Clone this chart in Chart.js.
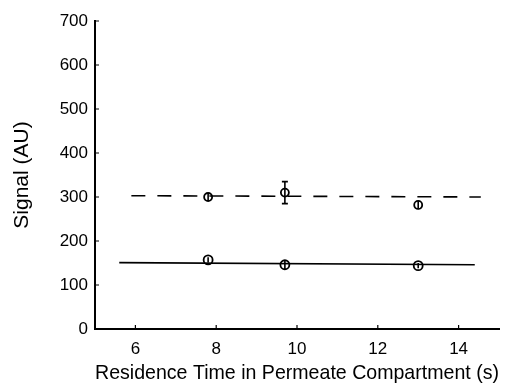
<!DOCTYPE html>
<html>
<head>
<meta charset="utf-8">
<script src="https://cdn.jsdelivr.net/npm/chart.js@4"></script>
<style>
  html, body { margin: 0; padding: 0; background: #fff; }
  #wrap { width: 529px; height: 387px; }
</style>
</head>
<body>
<div id="wrap"><canvas id="chart" width="529" height="387"></canvas></div>
<script>
// values
const xTicks = [6, 8, 10, 12, 14];
const yTicks = [0, 100, 200, 300, 400, 500, 600, 700];
const residenceTimes = [7.8, 9.7, 13.0];
const dashedSignal = [300, 310, 282];
const dashedError = [8, 25, 10];
const solidSignal = [157, 146, 144];
const solidError = [6, 10, 6];
const dashedFitX = [5.9, 14.55];
const dashedFitY = [303, 300];
const solidFitX = [5.6, 14.4];
const solidFitY = [151, 146];

const font = "'Liberation Sans', Arial, sans-serif";

function toPoints(xs, ys) {
  return xs.map((x, i) => ({ x: x, y: ys[i] }));
}

// error bars drawn through the markers
const errorBars = {
  id: "errorBars",
  afterDatasetsDraw(chart) {
    const ctx = chart.ctx;
    const xs = chart.scales.x, ys = chart.scales.y;
    ctx.save();
    ctx.strokeStyle = "#000";
    ctx.lineWidth = 1.6;
    chart.data.datasets.forEach((ds) => {
      if (!ds.errors) return;
      ds.data.forEach((p, i) => {
        const px = xs.getPixelForValue(p.x);
        const top = ys.getPixelForValue(p.y + ds.errors[i]);
        const bot = ys.getPixelForValue(p.y - ds.errors[i]);
        ctx.beginPath();
        ctx.moveTo(px, top);
        ctx.lineTo(px, bot);
        if (ds.errors[i] > 12) {
          ctx.moveTo(px - 3, top);
          ctx.lineTo(px + 3, top);
          ctx.moveTo(px - 3, bot);
          ctx.lineTo(px + 3, bot);
        }
        ctx.stroke();
      });
    });
    ctx.restore();
  },
};

// small tick marks pointing into the plot
const innerTicks = {
  id: "innerTicks",
  afterDraw(chart) {
    const ctx = chart.ctx;
    const xs = chart.scales.x, ys = chart.scales.y;
    const area = chart.chartArea;
    ctx.save();
    ctx.strokeStyle = "#000";
    ctx.lineWidth = 1.2;
    ctx.beginPath();
    xTicks.forEach((v) => {
      const px = xs.getPixelForValue(v);
      ctx.moveTo(px, area.bottom);
      ctx.lineTo(px, area.bottom - 4);
    });
    yTicks.forEach((v) => {
      const py = ys.getPixelForValue(v);
      ctx.moveTo(area.left, py);
      ctx.lineTo(area.left + 4, py);
    });
    ctx.stroke();
    ctx.restore();
  },
};

const ctx = document.getElementById("chart").getContext("2d");

new Chart(ctx, {
  type: "scatter",
  data: {
    datasets: [
      {
        type: "line",
        data: toPoints(dashedFitX, dashedFitY),
        borderColor: "#000",
        borderWidth: 1.6,
        borderDash: [14, 12],
        pointRadius: 0,
        fill: false,
      },
      {
        type: "line",
        data: toPoints(solidFitX, solidFitY),
        borderColor: "#000",
        borderWidth: 1.7,
        pointRadius: 0,
        fill: false,
      },
      {
        data: toPoints(residenceTimes, dashedSignal),
        errors: dashedError,
        pointRadius: 4,
        pointBackgroundColor: "#fff",
        pointBorderColor: "#000",
        pointBorderWidth: 1.8,
      },
      {
        data: toPoints(residenceTimes, solidSignal),
        errors: solidError,
        pointRadius: 4.5,
        pointBackgroundColor: "#fff",
        pointBorderColor: "#000",
        pointBorderWidth: 1.8,
      },
    ],
  },
  options: {
    responsive: false,
    animation: false,
    layout: { padding: { top: 21, right: 30, bottom: 0, left: 0 } },
    plugins: {
      legend: { display: false },
      tooltip: { enabled: false },
    },
    scales: {
      x: {
        type: "linear",
        min: 5,
        max: 15,
        afterBuildTicks: (scale) => {
          scale.ticks = xTicks.map((v) => ({ value: v }));
        },
        afterFit: (scale) => { scale.height = 58; },
        grid: { display: false, drawTicks: false },
        border: { display: true, color: "#000", width: 2 },
        ticks: {
          color: "#000",
          padding: 10,
          maxRotation: 0,
          font: { family: font, size: 17 },
        },
        title: {
          display: true,
          text: "Residence Time in Permeate Compartment (s)",
          color: "#000",
          padding: { top: 0, bottom: 1 },
          font: { family: font, size: 21 },
        },
      },
      y: {
        type: "linear",
        min: 0,
        max: 700,
        afterBuildTicks: (scale) => {
          scale.ticks = yTicks.map((v) => ({ value: v }));
        },
        afterFit: (scale) => { scale.width = 95; },
        grid: { display: false, drawTicks: false },
        border: { display: true, color: "#000", width: 2 },
        ticks: {
          color: "#000",
          padding: 7,
          font: { family: font, size: 17 },
        },
        title: {
          display: true,
          text: "Signal (AU)",
          color: "#000",
          padding: { top: 10, bottom: 0 },
          font: { family: font, size: 21 },
        },
      },
    },
  },
  plugins: [errorBars, innerTicks],
});
</script>
</body>
</html>
